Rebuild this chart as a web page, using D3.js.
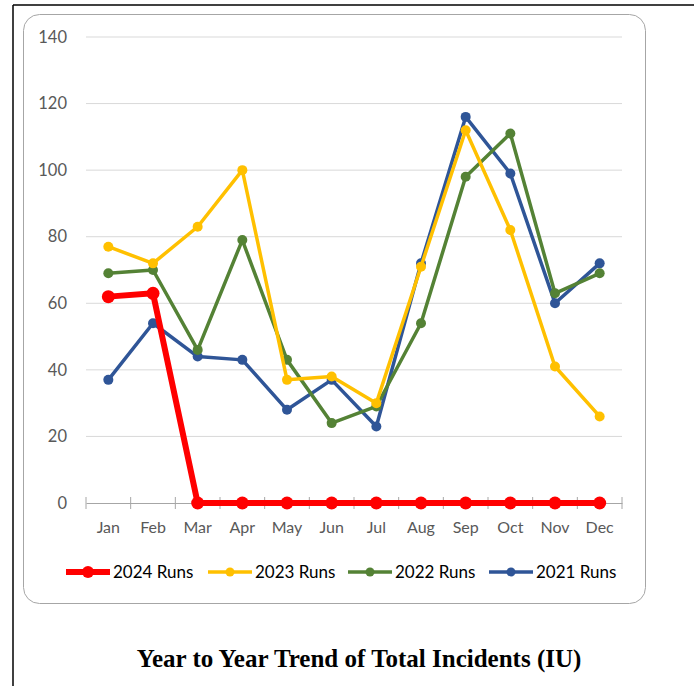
<!DOCTYPE html>
<html><head><meta charset="utf-8">
<script src="https://cdn.jsdelivr.net/npm/d3@7"></script>
<style>body{margin:0;background:#fff;} svg{display:block;}</style>
</head><body>
<script>
const months = ["Jan","Feb","Mar","Apr","May","Jun","Jul","Aug","Sep","Oct","Nov","Dec"];
const runs2024 = [62,63,0,0,0,0,0,0,0,0,0,0];
const runs2023 = [77,72,83,100,37,38,30,71,112,82,41,26];
const runs2022 = [69,70,46,79,43,24,29,54,98,111,63,69];
const runs2021 = [37,54,44,43,28,37,23,72,116,99,60,72];
const yTicks = [0,20,40,60,80,100,120,140];
const seriesNames = ["2024 Runs","2023 Runs","2022 Runs","2021 Runs"];
const title = "Year to Year Trend of Total Incidents (IU)";

const series = [
  {name:seriesNames[0], values:runs2024, color:"#FF0000", w:6, r:6.5},
  {name:seriesNames[1], values:runs2023, color:"#FFC000", w:3.5, r:5},
  {name:seriesNames[2], values:runs2022, color:"#548235", w:3.5, r:5},
  {name:seriesNames[3], values:runs2021, color:"#2F5597", w:3.5, r:5}
];
const drawOrder = [3,2,1,0];

const W=694,H=686;
const svg=d3.select("body").append("svg").attr("width",W).attr("height",H);
const font="Lato, 'Open Sans', sans-serif";

// outer page border lines
svg.append("line").attr("x1",13).attr("x2",13).attr("y1",5).attr("y2",H).attr("stroke","#000").attr("stroke-width",1.5);
svg.append("line").attr("x1",13).attr("x2",W).attr("y1",5).attr("y2",5).attr("stroke","#000").attr("stroke-width",1.5);

// chart frame
svg.append("rect").attr("x",23.5).attr("y",14.5).attr("width",622).attr("height",589).attr("rx",16)
  .attr("fill","#fff").attr("stroke","#a6a6a6").attr("stroke-width",1);

const x=d3.scaleBand().domain(months).range([86,622]);
const y=d3.scaleLinear().domain([0,140]).range([503,37]);

const g=svg.append("g");
// gridlines
g.selectAll(".grid").data(yTicks.filter(d=>d>0)).join("line")
  .attr("x1",86).attr("x2",622).attr("y1",d=>y(d)).attr("y2",d=>y(d))
  .attr("stroke","#d9d9d9").attr("stroke-width",1);

// y axis labels
const yAxis=d3.axisLeft(y).tickValues(yTicks).tickSize(0).tickPadding(19);
const ya=g.append("g").attr("transform","translate(86,0)").call(yAxis);
ya.select(".domain").remove();
ya.selectAll("text").attr("font-family",font).attr("font-size",16.5).attr("fill","#595959");

// x axis
const xa=g.append("g").attr("transform",`translate(0,${y(0)})`).call(d3.axisBottom(x).tickSize(0).tickPadding(19));
xa.select(".domain").attr("stroke","#a6a6a6");
xa.selectAll("text").attr("font-family",font).attr("font-size",16).attr("fill","#595959");
const bounds=months.map(m=>x(m)).concat([x.range()[1]]);
g.selectAll(".xt").data(bounds).join("line")
  .attr("x1",d=>d).attr("x2",d=>d).attr("y1",y(0)-6).attr("y2",y(0)+6)
  .attr("stroke","#a6a6a6").attr("stroke-width",1);

const cx=m=>x(m)+x.bandwidth()/2;
const line=d3.line().x((d,i)=>cx(months[i])).y(d=>y(d));
drawOrder.forEach(k=>{
  const s=series[k];
  g.append("path").datum(s.values).attr("d",line).attr("fill","none")
    .attr("stroke",s.color).attr("stroke-width",s.w).attr("stroke-linejoin","round");
  g.selectAll(null).data(s.values).join("circle")
    .attr("cx",(d,i)=>cx(months[i])).attr("cy",d=>y(d)).attr("r",s.r).attr("fill",s.color);
});

// legend
const legX=[66,208,348,489];
series.forEach((s,i)=>{
  const lg=svg.append("g").attr("transform",`translate(${legX[i]},572)`);
  lg.append("line").attr("x1",0).attr("x2",44).attr("stroke",s.color).attr("stroke-width",s.w);
  lg.append("circle").attr("cx",22).attr("r",s.r-0.5).attr("fill",s.color);
  lg.append("text").attr("x",47).attr("y",6).text(s.name).attr("font-family",font)
    .attr("font-size",17).attr("fill","#000");
});

// title
svg.append("text").attr("x",359).attr("y",667).attr("text-anchor","middle")
  .attr("font-family","'Liberation Serif', 'DejaVu Serif', serif").attr("font-weight","bold")
  .attr("font-size",25).attr("fill","#000").text(title);
</script>
</body></html>
